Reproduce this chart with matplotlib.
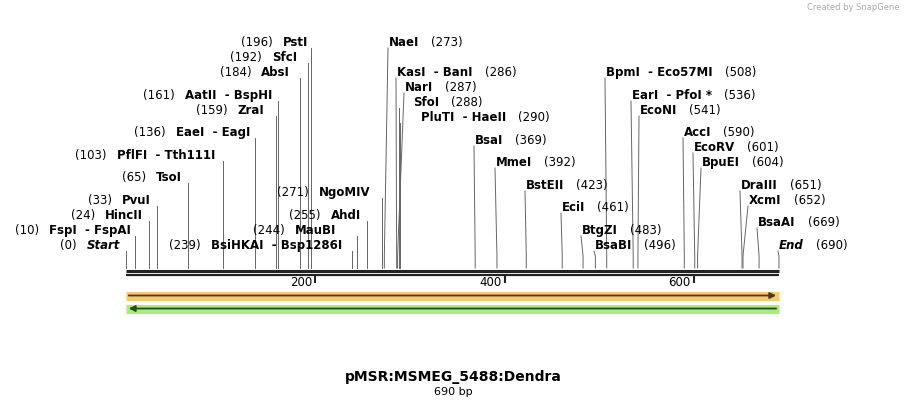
import matplotlib
matplotlib.use("Agg")
import matplotlib.pyplot as plt

# ---- data ----
enzymes = ["Start", "FspI - FspAI", "HincII", "PvuI", "TsoI", "PflFI - Tth111I", "EaeI - EagI",
           "ZraI", "AatII - BspHI", "AbsI", "SfcI", "PstI", "BsiHKAI - Bsp1286I", "MauBI",
           "AhdI", "NgoMIV", "NaeI", "KasI - BanI", "NarI", "SfoI", "PluTI - HaeII",
           "BsaI", "MmeI", "BstEII", "EciI", "BtgZI", "BsaBI", "BpmI - Eco57MI",
           "EarI - PfoI *", "EcoNI", "AccI", "EcoRV", "BpuEI", "DraIII", "XcmI", "BsaAI", "End"]
sites = [0, 10, 24, 33, 65, 103, 136, 159, 161, 184, 192, 196, 239, 244, 255, 271, 273, 286,
         287, 288, 290, 369, 392, 423, 461, 483, 496, 508, 536, 541, 590, 601, 604, 651, 652, 669, 690]
seq_len = 690
title = "pMSR:MSMEG_5488:Dendra"
ticks = [200, 400, 600]

# ---- layout (pixel rows / text anchors) ----
layout = {
    "Start": (245, "L", 120), "FspI - FspAI": (230, "L", 131), "HincII": (215, "L", 143),
    "PvuI": (200, "L", 151), "TsoI": (177, "L", 182), "PflFI - Tth111I": (155, "L", 215),
    "EaeI - EagI": (132, "L", 250), "ZraI": (110, "L", 264), "AatII - BspHI": (95, "L", 272),
    "AbsI": (72, "L", 290), "SfcI": (57, "L", 297), "PstI": (42, "L", 308),
    "BsiHKAI - Bsp1286I": (245, "L", 342), "MauBI": (230, "L", 336), "AhdI": (215, "L", 361),
    "NgoMIV": (192, "L", 370), "NaeI": (42, "R", 389), "KasI - BanI": (72, "R", 397),
    "NarI": (87, "R", 405), "SfoI": (102, "R", 413), "PluTI - HaeII": (117, "R", 421),
    "BsaI": (140, "R", 475), "MmeI": (162, "R", 496), "BstEII": (185, "R", 526),
    "EciI": (207, "R", 562), "BtgZI": (230, "R", 582), "BsaBI": (245, "R", 595),
    "BpmI - Eco57MI": (72, "R", 606), "EarI - PfoI *": (95, "R", 632), "EcoNI": (110, "R", 640),
    "AccI": (132, "R", 684), "EcoRV": (147, "R", 694), "BpuEI": (162, "R", 702),
    "DraIII": (185, "R", 741), "XcmI": (200, "R", 749), "BsaAI": (222, "R", 758),
    "End": (245, "R", 779),
}
X0, PX = 126.0, 0.9463
def px2bp(p):
    return (p - X0) / PX
def dpx(d):
    return d / PX

fig = plt.figure(figsize=(9.06, 4.08), dpi=100)
ax = fig.add_axes([0, 0, 1, 1])
ax.set_xlim(px2bp(0), px2bp(906))
ax.set_ylim(408, 0)
ax.axis("off")

FS = 8.5
BY = 268
fig.canvas.draw()
r = fig.canvas.get_renderer()
for name, pos in zip(enzymes, sites):
    ry, side, anc = layout[name]
    sx = X0 + pos * PX
    if side == "L":
        topx = max(sx, anc + 3)
    else:
        topx = anc - 1 if abs(sx - (anc - 1)) < 8 else sx
    bend = BY - 12
    ax.plot([pos, pos, px2bp(topx)], [BY, bend, ry + 6], color="#666666", lw=0.7, zorder=1)
    italic = name in ("Start", "End")
    num = f"({pos})"
    label = name.replace(" - ", "  - ")
    style = "italic" if italic else "normal"
    yb = ry + 4
    if side == "L":
        t = ax.text(px2bp(anc), yb, label, ha="right", va="baseline", fontsize=FS,
                    fontweight="bold", fontstyle=style)
        bb = t.get_window_extent(renderer=r).transformed(ax.transData.inverted())
        ax.text(bb.x0 - dpx(10), yb, num, ha="right", va="baseline", fontsize=FS)
    else:
        t = ax.text(px2bp(anc), yb, label, ha="left", va="baseline", fontsize=FS,
                    fontweight="bold", fontstyle=style)
        bb = t.get_window_extent(renderer=r).transformed(ax.transData.inverted())
        ax.text(bb.x1 + dpx(12), yb, num, ha="left", va="baseline", fontsize=FS)

# backbone
ax.plot([0, seq_len], [270.5, 270.5], color="#222222", lw=2.2, solid_capstyle="butt", zorder=3)
ax.plot([0, seq_len], [274.5, 274.5], color="#222222", lw=1.6, solid_capstyle="butt", zorder=3)
for tk in ticks:
    ax.plot([tk, tk], [276, 282], color="#222222", lw=1.5)
    ax.text(tk - dpx(3), 283, str(tk), ha="right", va="center", fontsize=8.5)

# features
ax.plot([0, seq_len], [295.5, 295.5], color="#f9c775", lw=6.5, solid_capstyle="butt", zorder=2)
ax.annotate("", xy=(seq_len, 295.5), xytext=(0, 295.5),
            arrowprops=dict(arrowstyle="-|>", color="#4a3a20", lw=1.3, mutation_scale=9))
ax.plot([0, seq_len], [308.5, 308.5], color="#a9ec7c", lw=6.5, solid_capstyle="butt", zorder=2)
ax.annotate("", xy=(0, 308.5), xytext=(seq_len, 308.5),
            arrowprops=dict(arrowstyle="-|>", color="#2c4a20", lw=1.3, mutation_scale=9))

ax.text(px2bp(453), 377, title, ha="center", va="center", fontsize=10, fontweight="bold")
ax.text(px2bp(453), 392, f"{seq_len} bp", ha="center", va="center", fontsize=8)
ax.text(px2bp(900), 8, "Created by SnapGene", ha="right", va="center", fontsize=6, color="#aaaaaa")

fig.savefig("out.png", dpi=100)
